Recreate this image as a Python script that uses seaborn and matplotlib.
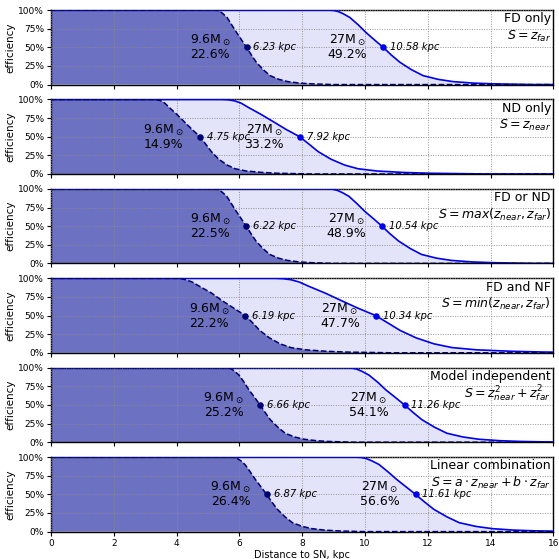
import matplotlib
matplotlib.use("Agg")
import matplotlib.pyplot as plt
import seaborn as sns

# ---- data ----
panel_names = ["FD only", "ND only", "FD or ND", "FD and NF", "Model independent", "Linear combination"]
panel_formulas = [r"$S = z_{far}$", r"$S = z_{near}$", r"$S = max(z_{near}, z_{far})$",
                  r"$S = min(z_{near}, z_{far})$", r"$S = z^2_{near} + z^2_{far}$",
                  r"$S = a\cdot z_{near} + b\cdot z_{far}$"]

eff_levels = [100, 100, 99.5, 98, 95, 90, 80, 70, 60, 50, 40, 30, 20, 12, 7, 4, 2, 1, 0, 0]

d96_fd = [0, 5.20, 5.31, 5.39, 5.48, 5.61, 5.76, 5.91, 6.07, 6.23, 6.38, 6.54, 6.76, 6.98, 7.26, 7.54, 7.91, 8.29, 9.03, 20]
d27_fd = [0, 8.83, 9.01, 9.15, 9.31, 9.52, 9.79, 10.03, 10.30, 10.58, 10.83, 11.11, 11.48, 11.85, 12.33, 12.80, 13.44, 14.07, 15.34, 20]
d96_nd = [0, 3.28, 3.40, 3.52, 3.63, 3.75, 4.01, 4.25, 4.49, 4.75, 4.93, 5.11, 5.34, 5.61, 5.87, 6.22, 6.75, 7.22, 8.31, 20]
d27_nd = [0, 5.46, 5.66, 5.86, 6.06, 6.26, 6.69, 7.09, 7.48, 7.92, 8.22, 8.51, 8.91, 9.35, 9.78, 10.38, 11.25, 12.04, 13.86, 20]
d96_or = [0, 5.19, 5.30, 5.38, 5.47, 5.60, 5.75, 5.90, 6.06, 6.22, 6.37, 6.53, 6.75, 6.97, 7.25, 7.53, 7.90, 8.27, 9.02, 20]
d27_or = [0, 8.80, 8.98, 9.12, 9.28, 9.49, 9.75, 9.99, 10.27, 10.54, 10.79, 11.07, 11.44, 11.80, 12.28, 12.75, 13.39, 14.02, 15.28, 20]
d96_and = [0, 4.00, 4.15, 4.30, 4.50, 4.70, 5.12, 5.45, 5.82, 6.19, 6.43, 6.65, 6.96, 7.30, 7.64, 8.11, 8.79, 9.41, 10.83, 20]
d27_and = [0, 7.13, 7.39, 7.65, 7.91, 8.17, 8.74, 9.25, 9.77, 10.34, 10.73, 11.12, 11.63, 12.20, 12.77, 13.55, 14.68, 15.72, 18.10, 20]
d96_mi = [0, 5.56, 5.67, 5.76, 5.86, 5.99, 6.16, 6.31, 6.49, 6.66, 6.82, 6.99, 7.23, 7.46, 7.76, 8.06, 8.46, 8.86, 9.66, 20]
d27_mi = [0, 9.40, 9.59, 9.74, 9.91, 10.13, 10.42, 10.67, 10.97, 11.26, 11.53, 11.82, 12.22, 12.61, 13.12, 13.62, 14.30, 14.98, 16.33, 20]
d96_lc = [0, 5.74, 5.85, 5.94, 6.05, 6.18, 6.35, 6.51, 6.69, 6.87, 7.03, 7.21, 7.45, 7.69, 8.00, 8.31, 8.72, 9.14, 9.96, 20]
d27_lc = [0, 9.69, 9.89, 10.04, 10.22, 10.45, 10.74, 11.01, 11.31, 11.61, 11.89, 12.19, 12.60, 13.00, 13.53, 14.05, 14.74, 15.44, 16.83, 20]

curves_96 = [d96_fd, d96_nd, d96_or, d96_and, d96_mi, d96_lc]
curves_27 = [d27_fd, d27_nd, d27_or, d27_and, d27_mi, d27_lc]

mid_96 = [6.23, 4.75, 6.22, 6.19, 6.66, 6.87]
mid_27 = [10.58, 7.92, 10.54, 10.34, 11.26, 11.61]
frac_96 = ["22.6%", "14.9%", "22.5%", "22.2%", "25.2%", "26.4%"]
frac_27 = ["49.2%", "33.2%", "48.9%", "47.7%", "54.1%", "56.6%"]

x_ticks = [0, 2, 4, 6, 8, 10, 12, 14, 16]
y_ticks = [0, 25, 50, 75, 100]
y_ticklabels = ["0%", "25%", "50%", "75%", "100%"]

# ---- styling ----
sns.set_theme(style="ticks")
plt.rcParams["font.family"] = ["DejaVu Sans"]
plt.rcParams["mathtext.fontset"] = "dejavusans"
for key in ["text.color", "axes.labelcolor", "xtick.color", "ytick.color", "axes.edgecolor"]:
    plt.rcParams[key] = "black"

light_fill = "#e3e3f9"
dark_fill = "#6d71c1"
line27 = "#0000ee"
line96 = "#000075"

fig, axes = plt.subplots(6, 1, figsize=(5.59, 5.59), dpi=100, sharex=True)
fig.subplots_adjust(left=0.091, right=0.990, top=0.982, bottom=0.049, hspace=0.2)

for i, ax in enumerate(axes):
    d96 = curves_96[i]
    d27 = curves_27[i]
    ax.fill_between(d27, eff_levels, 0, color=light_fill, lw=0, zorder=1)
    ax.fill_between(d96, eff_levels, 0, color=dark_fill, lw=0, zorder=2)
    sns.lineplot(x=d27, y=eff_levels, ax=ax, color=line27, lw=1.2, sort=False,
                 estimator=None, zorder=4)
    sns.lineplot(x=d96, y=eff_levels, ax=ax, color=line96, lw=1.1, sort=False,
                 estimator=None, linestyle="--", zorder=4)
    sns.scatterplot(x=[mid_27[i]], y=[50], ax=ax, color=line27, s=22, zorder=5,
                    edgecolor=line27, linewidth=0)
    sns.scatterplot(x=[mid_96[i]], y=[50], ax=ax, color=line96, s=22, zorder=5,
                    edgecolor=line96, linewidth=0)

    ax.text(mid_96[i] - 0.5, 50, "9.6M$_\\odot$\n" + frac_96[i], ha="right", va="center",
            multialignment="center", fontsize=9, zorder=6, linespacing=1.0)
    ax.text(mid_27[i] - 0.5, 50, "27M$_\\odot$\n" + frac_27[i], ha="right", va="center",
            multialignment="center", fontsize=9, zorder=6, linespacing=1.0)
    ax.text(mid_96[i] + 0.22, 50, f"{mid_96[i]:.2f} kpc", ha="left", va="center",
            fontsize=7.2, style="italic", zorder=6)
    ax.text(mid_27[i] + 0.22, 50, f"{mid_27[i]:.2f} kpc", ha="left", va="center",
            fontsize=7.2, style="italic", zorder=6)

    ax.text(0.995, 0.97, panel_names[i], transform=ax.transAxes,
            ha="right", va="top", fontsize=9, zorder=6)
    ax.text(0.995, 0.65, panel_formulas[i], transform=ax.transAxes,
            ha="right", va="center", fontsize=9, zorder=6)

    ax.set_xlim(0, 16)
    ax.set_ylim(0, 100)
    ax.set_yticks(y_ticks)
    ax.set_yticklabels(y_ticklabels)
    ax.set_xticks(x_ticks)
    ax.set_axisbelow(False)
    ax.grid(True, linestyle=(0, (1, 1.5)), color="#8a8a8a", lw=0.7, alpha=0.9, zorder=3)
    ax.tick_params(axis="both", labelsize=6.5, length=3, width=0.8, pad=2, direction="out")
    ax.set_ylabel("efficiency", fontsize=7.5, labelpad=2)
    for s in ax.spines.values():
        s.set_visible(True)
        s.set_color("black")
        s.set_linewidth(1.0)

axes[-1].set_xlabel("Distance to SN, kpc", fontsize=7, labelpad=2)

fig.savefig("out.png", dpi=100)
